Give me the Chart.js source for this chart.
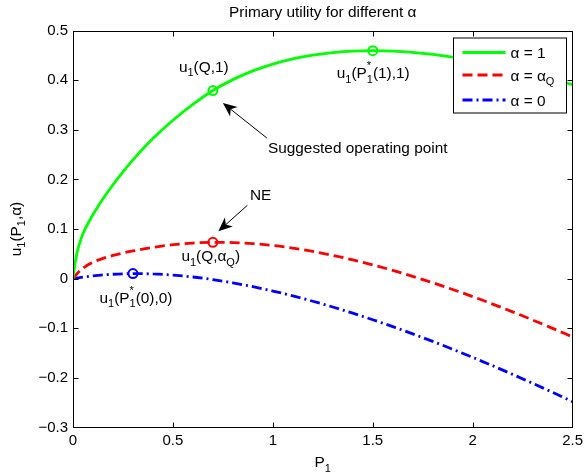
<!DOCTYPE html>
<html>
<head>
<meta charset="utf-8">
<script src="https://cdn.jsdelivr.net/npm/chart.js@4.4.1/dist/chart.umd.min.js"></script>
<style>
  html, body { margin: 0; padding: 0; background: #fff; }
  canvas { display: block; }
</style>
</head>
<body>
<canvas id="c" width="587" height="474"></canvas>
<script>
// ---------------- data ----------------
const P = [0, 0.01, 0.02, 0.04, 0.06, 0.08, 0.1, 0.125, 0.15, 0.2, 0.25, 0.3, 0.35, 0.4, 0.5, 0.6,
           0.7, 0.8, 0.9, 1.0, 1.1, 1.2, 1.3, 1.4, 1.5, 1.6, 1.7, 1.8, 1.9, 2.0, 2.1, 2.2, 2.3, 2.4, 2.5];
const uAlpha1 = [0, 0.030, 0.052, 0.080, 0.0995, 0.1149, 0.1291, 0.1455, 0.1608, 0.1892, 0.2152, 0.2393, 0.2617, 0.2823, 0.3191, 0.3511,
                 0.379, 0.401, 0.4186, 0.4323, 0.4428, 0.4504, 0.4555, 0.4584, 0.4593, 0.4584, 0.4558, 0.4518, 0.4463, 0.4396, 0.4318, 0.4229, 0.4130, 0.4022, 0.391];
const uAlphaQ = [0, 0.0052, 0.0098, 0.0176, 0.0238, 0.0288, 0.0330, 0.0373, 0.0408, 0.0467, 0.0516, 0.0558, 0.0595, 0.0629, 0.0683, 0.0717,
                 0.0732, 0.0727, 0.0705, 0.0668, 0.0615, 0.0548, 0.0469, 0.0379, 0.0277, 0.0167, 0.0046, -0.0082, -0.0219, -0.0362, -0.0513, -0.0670, -0.0833, -0.1002, -0.1176];
const uAlpha0 = [0, 0.0007, 0.0013, 0.0025, 0.0036, 0.0047, 0.0056, 0.0066, 0.0075, 0.0088, 0.0097, 0.0101, 0.0100, 0.0094, 0.0071, 0.0033,
                 -0.0020, -0.0085, -0.0162, -0.0250, -0.0348, -0.0456, -0.0572, -0.0696, -0.0828, -0.0967, -0.1113, -0.1265, -0.1423, -0.1587, -0.1756, -0.1930, -0.2109, -0.2292, -0.2480];

// marked points
const markG_P = [0.7, 1.5];
const markG_u = [0.379, 0.4593];
const markR_P = [0.7];
const markR_u = [0.0732];
const markB_P = [0.3];
const markB_u = [0.0101];

// ticks
const xTicks = [0, 0.5, 1, 1.5, 2, 2.5];
const yTicks = [-0.3, -0.2, -0.1, 0, 0.1, 0.2, 0.3, 0.4, 0.5];

const titleText = 'Primary utility for different \u03b1';
const legendLabels = [[['\u03b1 = 1']], [['\u03b1 = \u03b1'], ['Q', 'sub']], [['\u03b1 = 0']]];

// ---------------- styling ----------------
const FAM = '"Liberation Sans", Arial, Helvetica, sans-serif';
const MAIN = '15.4px ' + FAM;
const SUB = '11px ' + FAM;
const GREEN = '#00ff00', RED = '#ff0000', BLUE = '#0000ff';
const DASH_R = [10, 5];
const DASH_B = [10, 4, 2, 4];
const LW = 2.8;

function toXY(xs, ys) { return xs.map((v, i) => ({ x: v, y: ys[i] })); }

function segW(ctx, p) {
  if (p[1] === 'sub') { ctx.font = SUB; return ctx.measureText(p[0]).width; }
  if (p[1] === 'ss') { ctx.font = SUB; return Math.max(ctx.measureText(p[0]).width, ctx.measureText(p[2]).width); }
  ctx.font = MAIN; return ctx.measureText(p[0]).width;
}
function richW(ctx, parts) { return parts.reduce((s, p) => s + segW(ctx, p), 0); }
function drawRich(ctx, parts, x, y, align) {
  ctx.textAlign = 'left';
  ctx.textBaseline = 'alphabetic';
  let cx = align === 'center' ? x - richW(ctx, parts) / 2 : x;
  for (const p of parts) {
    const w = segW(ctx, p);
    if (p[1] === 'sub') { ctx.font = SUB; ctx.fillText(p[0], cx, y + 4.5); }
    else if (p[1] === 'ss') { ctx.font = SUB; ctx.fillText(p[0], cx, y - 9); ctx.fillText(p[2], cx, y + 4.5); }
    else { ctx.font = MAIN; ctx.fillText(p[0], cx, y); }
    cx += w;
  }
}
function arrow(ctx, x1, y1, x2, y2) {
  const ang = Math.atan2(y2 - y1, x2 - x1);
  const L = 14, W = 6, N = 10;
  ctx.beginPath();
  ctx.moveTo(x1, y1);
  ctx.lineTo(x2 - Math.cos(ang) * N, y2 - Math.sin(ang) * N);
  ctx.lineWidth = 1;
  ctx.stroke();
  const bx = x2 - Math.cos(ang) * L, by = y2 - Math.sin(ang) * L;
  const nx = -Math.sin(ang), ny = Math.cos(ang);
  ctx.beginPath();
  ctx.moveTo(x2, y2);
  ctx.lineTo(bx + nx * W, by + ny * W);
  ctx.lineTo(x2 - Math.cos(ang) * N, y2 - Math.sin(ang) * N);
  ctx.lineTo(bx - nx * W, by - ny * W);
  ctx.closePath();
  ctx.fill();
}

const matlabPlugin = {
  id: 'matlabLook',
  beforeDraw(chart) {
    const ctx = chart.ctx;
    ctx.save();
    ctx.fillStyle = '#fff';
    ctx.fillRect(0, 0, chart.width, chart.height);
    ctx.restore();
  },
  afterDatasetsDraw(chart) {
    const { ctx, chartArea: a, scales: { x, y } } = chart;
    ctx.save();
    ctx.strokeStyle = '#000';
    ctx.fillStyle = '#000';
    ctx.lineWidth = 1;
    ctx.setLineDash([]);
    const L = Math.round(a.left) + 0.5, R = Math.round(a.right) - 0.5;
    const T = Math.round(a.top) + 0.5, B = Math.round(a.bottom) - 0.5;
    // frame
    ctx.strokeRect(L, T, R - L, B - T);
    // inward ticks
    ctx.beginPath();
    xTicks.forEach(v => {
      const px = Math.round(x.getPixelForValue(v)) + 0.5;
      if (px <= L + 1 || px >= R - 1) return;
      ctx.moveTo(px, B); ctx.lineTo(px, B - 5);
      ctx.moveTo(px, T); ctx.lineTo(px, T + 5);
    });
    yTicks.forEach(v => {
      const py = Math.round(y.getPixelForValue(v)) + 0.5;
      if (py <= T + 1 || py >= B - 1) return;
      ctx.moveTo(L, py); ctx.lineTo(L + 5, py);
      ctx.moveTo(R, py); ctx.lineTo(R - 5, py);
    });
    ctx.stroke();

    // title & axis labels
    const cx = (a.left + a.right) / 2;
    drawRich(ctx, [[titleText]], cx, 17, 'center');
    drawRich(ctx, [['P'], ['1', 'sub']], cx, 467, 'center');
    ctx.save();
    ctx.translate(20.5, (a.top + a.bottom) / 2);
    ctx.rotate(-Math.PI / 2);
    drawRich(ctx, [['u'], ['1', 'sub'], ['(P'], ['1', 'sub'], [',\u03b1)']], 0, 0, 'center');
    ctx.restore();

    // annotations anchored on the marked points
    const gQ = { x: x.getPixelForValue(markG_P[0]), y: y.getPixelForValue(markG_u[0]) };
    const gP = { x: x.getPixelForValue(markG_P[1]), y: y.getPixelForValue(markG_u[1]) };
    const rQ = { x: x.getPixelForValue(markR_P[0]), y: y.getPixelForValue(markR_u[0]) };
    const bP = { x: x.getPixelForValue(markB_P[0]), y: y.getPixelForValue(markB_u[0]) };
    drawRich(ctx, [['u'], ['1', 'sub'], ['(Q,1)']], gQ.x - 34, gQ.y - 19);
    drawRich(ctx, [['u'], ['1', 'sub'], ['(P'], ['*', 'ss', '1'], ['(1),1)']], gP.x - 36, gP.y + 27.5);
    drawRich(ctx, [['Suggested operating point']], gQ.x + 55, gQ.y + 62.5);
    arrow(ctx, gQ.x + 54, gQ.y + 47.5, gQ.x + 10, gQ.y + 12.5);
    drawRich(ctx, [['NE']], rQ.x + 37, rQ.y - 42.5);
    arrow(ctx, rQ.x + 34.5, rQ.y - 37, rQ.x + 5.5, rQ.y - 11);
    drawRich(ctx, [['u'], ['1', 'sub'], ['(Q,\u03b1'], ['Q', 'sub'], [')']], rQ.x - 31.5, rQ.y + 19);
    drawRich(ctx, [['u'], ['1', 'sub'], ['(P'], ['*', 'ss', '1'], ['(0),0)']], bP.x - 33.5, bP.y + 29);

    // legend
    const lx = Math.round(a.right) - 119.5, ly = Math.round(a.top) + 7;
    const lw = 113, lh = 75;
    ctx.fillStyle = '#fff';
    ctx.fillRect(lx, ly, lw, lh);
    ctx.strokeStyle = '#000';
    ctx.lineWidth = 1;
    ctx.strokeRect(lx, ly, lw, lh);
    const rows = [ly + 14.5, ly + 37, ly + 62];
    const cols = [GREEN, RED, BLUE];
    const dashes = [[], DASH_R, DASH_B];
    rows.forEach((ry, i) => {
      ctx.save();
      ctx.strokeStyle = cols[i];
      ctx.lineWidth = LW;
      ctx.setLineDash(dashes[i]);
      ctx.beginPath();
      ctx.moveTo(lx + 9, ry);
      ctx.lineTo(lx + 52, ry);
      ctx.stroke();
      ctx.restore();
      ctx.fillStyle = '#000';
      drawRich(ctx, legendLabels[i], lx + 57, ry + 5.5);
    });
    ctx.restore();
  }
};

function fmt(v) {
  const r = Math.round(v * 10) / 10;
  const s = String(Math.abs(r));
  return (r < 0 ? '\u2212' : '') + s;
}

const lineDs = (label, data, color, dash) => ({
  label, data: toXY(P, data), borderColor: color, backgroundColor: color,
  borderWidth: LW, borderDash: dash, pointRadius: 0, fill: false,
  cubicInterpolationMode: 'monotone', borderCapStyle: 'butt'
});
const markDs = (xs, ys, color) => ({
  data: toXY(xs, ys), showLine: false, pointRadius: 4.5, pointBorderWidth: 2,
  pointBorderColor: color, pointBackgroundColor: 'rgba(0,0,0,0)', borderColor: color
});

new Chart(document.getElementById('c'), {
  type: 'line',
  data: {
    datasets: [
      lineDs('\u03b1 = 1', uAlpha1, GREEN, []),
      lineDs('\u03b1 = \u03b1Q', uAlphaQ, RED, DASH_R),
      lineDs('\u03b1 = 0', uAlpha0, BLUE, DASH_B),
      markDs(markG_P, markG_u, GREEN),
      markDs(markR_P, markR_u, RED),
      markDs(markB_P, markB_u, BLUE)
    ]
  },
  options: {
    responsive: false,
    animation: false,
    devicePixelRatio: 1,
    layout: { padding: { top: 30.5, right: 10, bottom: 0, left: 0 } },
    plugins: { legend: { display: false }, title: { display: false }, tooltip: { enabled: false } },
    scales: {
      x: {
        type: 'linear', min: 0, max: 2.5,
        afterBuildTicks: s => { s.ticks = xTicks.map(v => ({ value: v })); },
        afterFit: s => { s.height = 46.5; },
        grid: { display: false, drawTicks: false },
        border: { display: false },
        ticks: { color: '#000', font: { family: FAM, size: 15 }, padding: 4, maxRotation: 0, autoSkip: false, callback: v => fmt(v) }
      },
      y: {
        type: 'linear', min: -0.3, max: 0.5,
        afterBuildTicks: s => { s.ticks = yTicks.map(v => ({ value: v })); },
        afterFit: s => { s.width = 73; },
        grid: { display: false, drawTicks: false },
        border: { display: false },
        ticks: { color: '#000', font: { family: FAM, size: 15 }, padding: 5, autoSkip: false, callback: v => fmt(v) }
      }
    }
  },
  plugins: [matlabPlugin]
});
</script>
</body>
</html>
